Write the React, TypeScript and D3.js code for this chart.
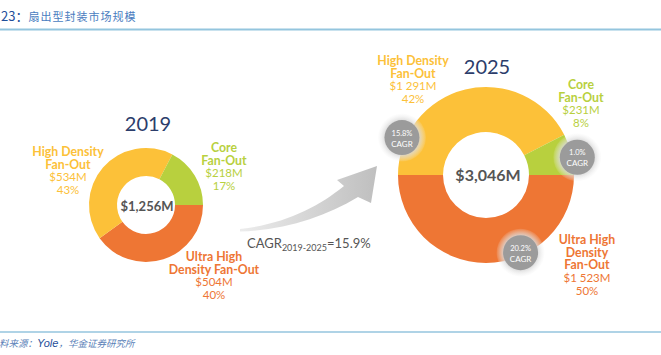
import React from "react";
import * as d3 from "d3";

const categories = ["Ultra High Density Fan-Out", "High Density Fan-Out", "Core Fan-Out"];
const values2019 = [504, 534, 218];
const shares2019 = ["40%", "43%", "17%"];
const values2025 = [1523, 1291, 231];
const shares2025 = ["50%", "42%", "8%"];
const valueLabels2019 = ["$504M", "$534M", "$218M"];
const valueLabels2025 = ["$1 523M", "$1 291M", "$231M"];
const cagrs = ["20.2%", "15.8%", "1.0%"];
const totals = ["$1,256M", "$3,046M"];
const years = ["2019", "2025"];
const overallCagr = "15.9%";

const colors = ["#EE7634", "#FCC139", "#B8D03E"];
const labelFont = "Lato, 'Open Sans', sans-serif";

function Donut({ values, cx, cy, r, ir }: { values: number[]; cx: number; cy: number; r: number; ir: number }) {
  const pie = d3.pie<number>().sort(null).startAngle(Math.PI / 2).endAngle(Math.PI / 2 + 2 * Math.PI);
  const arc = d3.arc<d3.PieArcDatum<number>>().innerRadius(ir).outerRadius(r);
  const arcs = pie(values);
  return (
    <g transform={`translate(${cx},${cy})`}>
      {arcs.map((a, i) => (
        <path key={i} d={arc(a) || ""} fill={colors[i]} />
      ))}
    </g>
  );
}

function Label({ value, share, x, y, color, split }: { cat: string; value: string; share: string; x: number; y: number; color: string; split: string[] }) {
  const lh = 12.7;
  return (
    <text x={x} y={y} textAnchor="middle" fill={color} fontFamily={labelFont} fontSize={11.5}>
      {split.map((s, i) => (
        <tspan key={i} x={x} dy={i === 0 ? 0 : lh} fontWeight={700} fontSize={12.3}>{s}</tspan>
      ))}
      <tspan x={x} dy={lh}>{value}</tspan>
      <tspan x={x} dy={lh}>{share}</tspan>
    </text>
  );
}

function CagrBadge({ x, y, text }: { x: number; y: number; text: string }) {
  return (
    <g transform={`translate(${x},${y})`}>
      <circle r={24} fill="url(#halo)" />
      <circle r={17.5} fill="#9B9B9B" />
      <text y={-2} textAnchor="middle" fill="#fff" fontFamily={labelFont} fontSize={7.5}>{text}</text>
      <text y={9} textAnchor="middle" fill="#fff" fontFamily={labelFont} fontSize={8}>CAGR</text>
    </g>
  );
}

export default function App() {
  const c1 = { x: 146, y: 205, r: 57, ir: 29 };
  const c2 = { x: 486, y: 175, r: 88, ir: 43 };
  const badgeAngles = [156, 294, 79];
  const badgeDist = [85, 92, 93];
  return (
    <svg width={661} height={355} style={{ position: "absolute", left: 0, top: 0, background: "#fff" }}>
      <defs>
        <radialGradient id="halo">
          <stop offset="0.7" stopColor="#d6d6d6" stopOpacity={0.9} />
          <stop offset="1" stopColor="#f0f0f0" stopOpacity={0.1} />
        </radialGradient>
        <linearGradient id="arrowGrad" x1="0" y1="0" x2="1" y2="0">
          <stop offset="0" stopColor="#ececec" />
          <stop offset="1" stopColor="#bfbfbf" />
        </linearGradient>
      </defs>
      <text x={1} y={21} fontFamily="'Noto Sans CJK SC', sans-serif">
        <tspan fill="#1F4E9A" fontSize={13}>23：</tspan>
        <tspan fill="#4A7CC0" fontSize={11} letterSpacing={1}>扇出型封装市场规模</tspan>
      </text>
      <line x1={0} x2={661} y1={29.5} y2={29.5} stroke="#94C5DE" strokeWidth={2} />

      <Donut values={values2019} cx={c1.x} cy={c1.y} r={c1.r} ir={c1.ir} />
      <text x={148} y={131} textAnchor="middle" fill="#2C3D6B" fontFamily={labelFont} fontSize={20}>{years[0]}</text>
      <text x={c1.x + 1} y={c1.y + 6} textAnchor="middle" fill="#555" fontFamily={labelFont} fontWeight={700} fontSize={13}>{totals[0]}</text>
      <Label cat={categories[1]} split={["High Density", "Fan-Out"]} value={valueLabels2019[1]} share={shares2019[1]} x={68} y={156} color={colors[1]} />
      <Label cat={categories[2]} split={["Core", "Fan-Out"]} value={valueLabels2019[2]} share={shares2019[2]} x={224} y={152} color={colors[2]} />
      <Label cat={categories[0]} split={["Ultra High", "Density Fan-Out"]} value={valueLabels2019[0]} share={shares2019[0]} x={214} y={261} color={colors[0]} />

      <path d="M240,229 C285,224 318,207 344,186 L337,180 L377,166 L371,203 L358,197 C325,217 285,230 240,231.5 Z" fill="url(#arrowGrad)" />
      <text x={247} y={248} fill="#555" fontFamily={labelFont} fontSize={13}>
        CAGR<tspan fontSize={9} dy={3}>2019-2025</tspan><tspan dy={-3}>={overallCagr}</tspan>
      </text>

      <Donut values={values2025} cx={c2.x} cy={c2.y} r={c2.r} ir={c2.ir} />
      <text x={487} y={74} textAnchor="middle" fill="#2C3D6B" fontFamily={labelFont} fontSize={20}>{years[1]}</text>
      <text x={c2.x + 2} y={c2.y + 6} textAnchor="middle" fill="#555" fontFamily={labelFont} fontWeight={700} fontSize={16}>{totals[1]}</text>
      <Label cat={categories[1]} split={["High Density", "Fan-Out"]} value={valueLabels2025[1]} share={shares2025[1]} x={413} y={65} color={colors[1]} />
      <Label cat={categories[2]} split={["Core", "Fan-Out"]} value={valueLabels2025[2]} share={shares2025[2]} x={581} y={89} color={colors[2]} />
      <Label cat={categories[0]} split={["Ultra High", "Density", "Fan-Out"]} value={valueLabels2025[0]} share={shares2025[0]} x={587} y={244} color={colors[0]} />
      {cagrs.map((t, i) => {
        const [px, py] = d3.pointRadial((badgeAngles[i] * Math.PI) / 180, badgeDist[i]);
        return <CagrBadge key={i} x={c2.x + px} y={c2.y + py} text={t} />;
      })}

      <line x1={0} x2={661} y1={332} y2={332} stroke="#94C5DE" strokeWidth={1.5} />
      <text x={-1} y={347} fontFamily="'Noto Sans CJK SC', sans-serif" fontStyle="italic">
        <tspan fill="#5A7FB8" fontSize={9.5}>料来源：</tspan>
        <tspan fill="#1F4E9A" fontSize={11} fontFamily="'Liberation Sans', sans-serif">Yole</tspan>
        <tspan fill="#5A7FB8" fontSize={9.5}>，华金证券研究所</tspan>
      </text>
    </svg>
  );
}
